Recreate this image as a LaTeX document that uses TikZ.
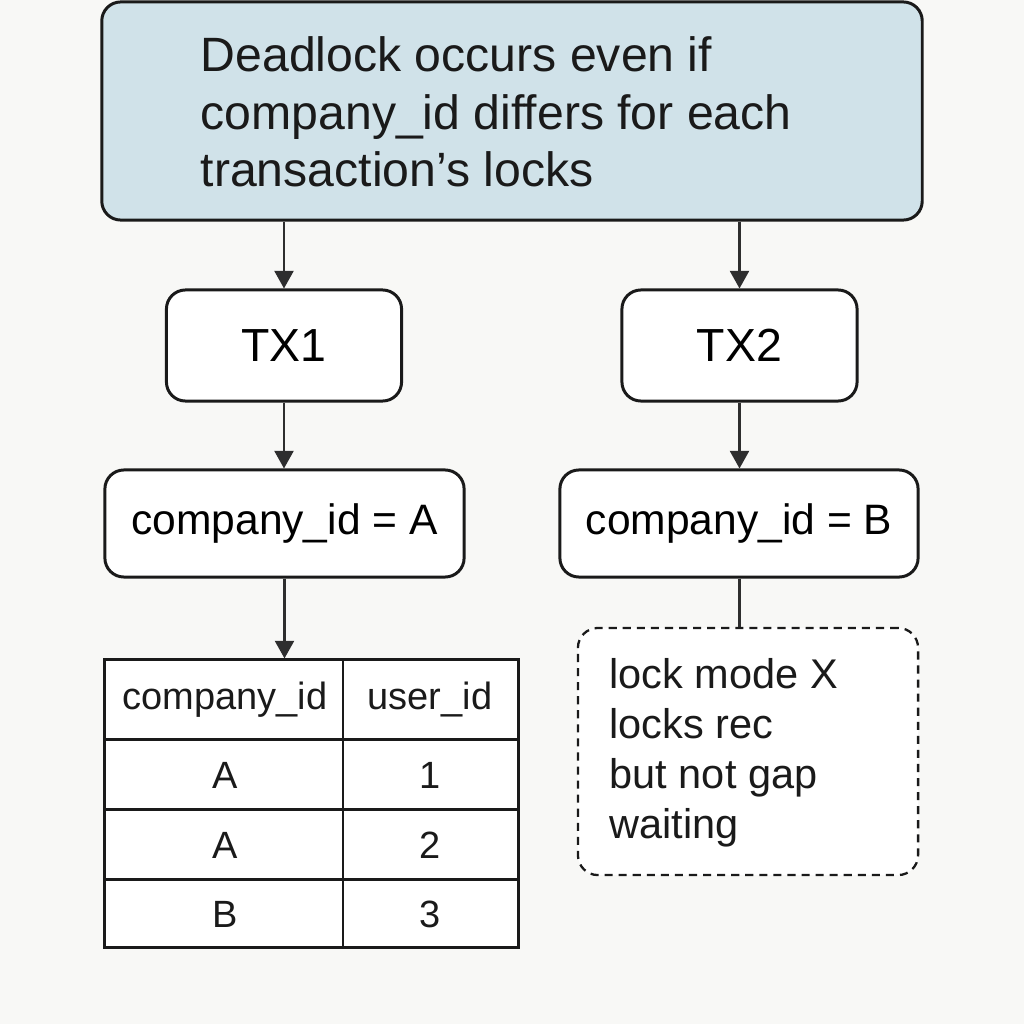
\documentclass[tikz,border=0pt]{standalone}
\usepackage{fontspec}
\setmainfont{Liberation Sans}
\usetikzlibrary{arrows.meta,calc}
\definecolor{bgc}{HTML}{F8F8F6}
\definecolor{topfill}{HTML}{D0E2E9}
\definecolor{ink}{HTML}{1A1A1A}
\definecolor{arr}{HTML}{2E2E2E}
\begin{document}
\begin{tikzpicture}[x=0.01cm,y=-0.01cm,
  box/.style={draw=ink,line width=0.85pt,rounded corners=0.19cm,inner sep=0pt,fill=white},
  conn/.style={draw=arr,line width=0.65pt,-{Triangle[length=5pt,width=5.4pt]}},
  plain/.style={draw=arr,line width=0.65pt},
  txt/.style={text=ink,inner sep=0pt},
  cell/.style={txt,font=\fontsize{10.8}{13}\selectfont}
]
\fill[bgc] (0,0) rectangle (1024,1024);
\useasboundingbox (0,0) rectangle (1024,1024);

% top box
\node[box,fill=topfill,minimum width=8.2cm,minimum height=2.18cm] (top) at (512,111) {};
\node[txt,align=left,anchor=west,font=\fontsize{13.7}{16.3}\selectfont] (toptext) at (200,112)
  {Deadlock occurs even if\\company\_id differs for each\\transaction’s locks};

% TX boxes
\node[box,minimum width=2.35cm,minimum height=1.11cm,font=\fontsize{13.2}{15}\selectfont] (tx1) at (284,345.5) {TX1};
\node[box,minimum width=2.35cm,minimum height=1.11cm,font=\fontsize{13.2}{15}\selectfont] (tx2) at (739.5,345.5) {TX2};

% company boxes
\node[box,minimum width=3.59cm,minimum height=1.07cm,font=\fontsize{12.1}{14}\selectfont] (ca) at (284.5,523.5) {company\_id = A};
\node[box,minimum width=3.58cm,minimum height=1.07cm,font=\fontsize{12.1}{14}\selectfont] (cb) at (739,523.5) {company\_id = B};

% dashed note
\node[draw=ink,line width=0.65pt,dash pattern=on 2.3pt off 1.7pt,rounded corners=0.2cm,fill=white,
  minimum width=3.4cm,minimum height=2.47cm,inner sep=0pt] (note) at (748,751.5) {};
\node[txt,align=left,anchor=west,font=\fontsize{11.8}{14.2}\selectfont] (notetext) at (609,753)
  {lock mode X\\locks rec\\but not gap\\waiting};

% table
\node[draw=ink,line width=0.85pt,fill=white,minimum width=4.13cm,minimum height=2.87cm,inner sep=0pt] (tbl) at (311.5,803.5) {};
\draw[ink,line width=0.85pt] (343,660) -- (343,947);
\draw[ink,line width=0.85pt] (105,739) -- (518,739);
\draw[ink,line width=0.85pt] (105,809) -- (518,809);
\draw[ink,line width=0.85pt] (105,879) -- (518,879);
\node[cell] (h1) at (225,700) {company\_id};
\node[cell] (h2) at (430,700) {user\_id};
\node[cell] (r1a) at (225,775) {A};
\node[cell] (r1b) at (430,775) {1};
\node[cell] (r2a) at (225,845) {A};
\node[cell] (r2b) at (430,845) {2};
\node[cell] (r3a) at (225,914) {B};
\node[cell] (r3b) at (430,914) {3};

% connectors
\draw[conn] (tx1.north |- top.south) -- (tx1.north);
\draw[conn] (tx2.north |- top.south) -- (tx2.north);
\draw[conn] (tx1.south) -- (tx1.south |- ca.north);
\draw[conn] (tx2.south) -- (tx2.south |- cb.north);
\draw[conn] (ca.south) -- (ca.south |- tbl.north);
\draw[plain] (tx2.south |- cb.south) -- (tx2.south |- note.north);
\end{tikzpicture}
\end{document}
